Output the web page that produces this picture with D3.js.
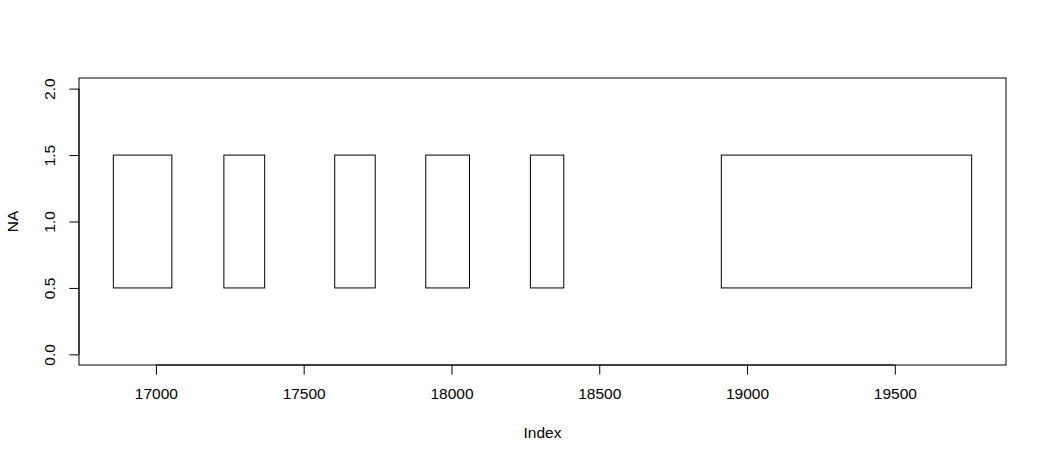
<!DOCTYPE html>
<html>
<head>
<meta charset="utf-8">
<script src="https://cdn.jsdelivr.net/npm/d3@7"></script>
<style>
  html, body { margin: 0; padding: 0; background: #fff; }
  text { font-family: "Liberation Sans", Arial, sans-serif; font-size: 15.5px; fill: #000; }
</style>
</head>
<body>
<svg id="chart" width="1046" height="463"></svg>
<script>
// Data: intervals (start/end index) drawn as boxes between y = 0.5 and 1.5
const starts = [16856, 17230, 17605, 17913, 18267, 18913];
const ends   = [17054, 17368, 17742, 18061, 18380, 19760];
const yLow = 0.5, yHigh = 1.5;
const xTicks = [17000, 17500, 18000, 18500, 19000, 19500];
const yTicks = [0.0, 0.5, 1.0, 1.5, 2.0];
const xLabel = "Index";
const yLabel = "NA";

const W = 1046, H = 463;
const plot = { left: 79, right: 1006, top: 78, bottom: 365 };

const svg = d3.select("#chart");

// R-style 4% axis extension
const xmin = d3.min(starts), xmax = d3.max(ends);
const xpad = (xmax - xmin) * 0.04;
const x = d3.scaleLinear().domain([xmin - xpad, xmax + xpad]).range([plot.left, plot.right]);
const ypad = (2 - 0) * 0.04;
const y = d3.scaleLinear().domain([0 - ypad, 2 + ypad]).range([plot.bottom, plot.top]);

// Boxes
const boxes = starts.map((s, i) => ({ s, e: ends[i] }));
svg.append("g").selectAll("rect").data(boxes).join("rect")
  .attr("x", d => x(d.s))
  .attr("y", y(yHigh))
  .attr("width", d => x(d.e) - x(d.s))
  .attr("height", y(yLow) - y(yHigh))
  .attr("fill", "none")
  .attr("stroke", "#000")
  .attr("stroke-width", 1);

// Plot frame
svg.append("rect")
  .attr("x", plot.left).attr("y", plot.top)
  .attr("width", plot.right - plot.left).attr("height", plot.bottom - plot.top)
  .attr("fill", "none").attr("stroke", "#000").attr("stroke-width", 1);

const tickLen = 9.6;

// X axis (R style)
const xAxis = d3.axisBottom(x).tickValues(xTicks).tickSize(tickLen).tickPadding(0).tickFormat(d3.format("d"));
const gx = svg.append("g").attr("transform", `translate(0,${plot.bottom})`).call(xAxis);
gx.select(".domain").attr("d", `M${x(xTicks[0])},0H${x(xTicks[xTicks.length-1])}`).attr("stroke", "#000");
gx.selectAll(".tick line").attr("stroke", "#000");
gx.selectAll(".tick text")
  .attr("y", 34).attr("dy", null)
  .style("font-family", '"Liberation Sans", Arial, sans-serif').style("font-size", "15.5px").attr("fill", "#000");

// Y axis (R style, rotated labels)
const yAxis = d3.axisLeft(y).tickValues(yTicks).tickSize(tickLen).tickFormat(d3.format(".1f"));
const gy = svg.append("g").attr("transform", `translate(${plot.left},0)`).call(yAxis);
gy.select(".domain").attr("d", `M0,${y(yTicks[0])}V${y(yTicks[yTicks.length-1])}`).attr("stroke", "#000");
gy.selectAll(".tick line").attr("stroke", "#000");
gy.selectAll(".tick text")
  .attr("x", null).attr("dy", null)
  .attr("text-anchor", "middle")
  .attr("transform", "translate(-24,0) rotate(-90)")
  .style("font-family", '"Liberation Sans", Arial, sans-serif').style("font-size", "15.5px").attr("fill", "#000");

// Axis titles
svg.append("text")
  .attr("x", (plot.left + plot.right) / 2).attr("y", 438)
  .attr("text-anchor", "middle").text(xLabel);
svg.append("text")
  .attr("transform", `translate(18,${(plot.top + plot.bottom) / 2}) rotate(-90)`)
  .attr("text-anchor", "middle").text(yLabel);
</script>
</body>
</html>
